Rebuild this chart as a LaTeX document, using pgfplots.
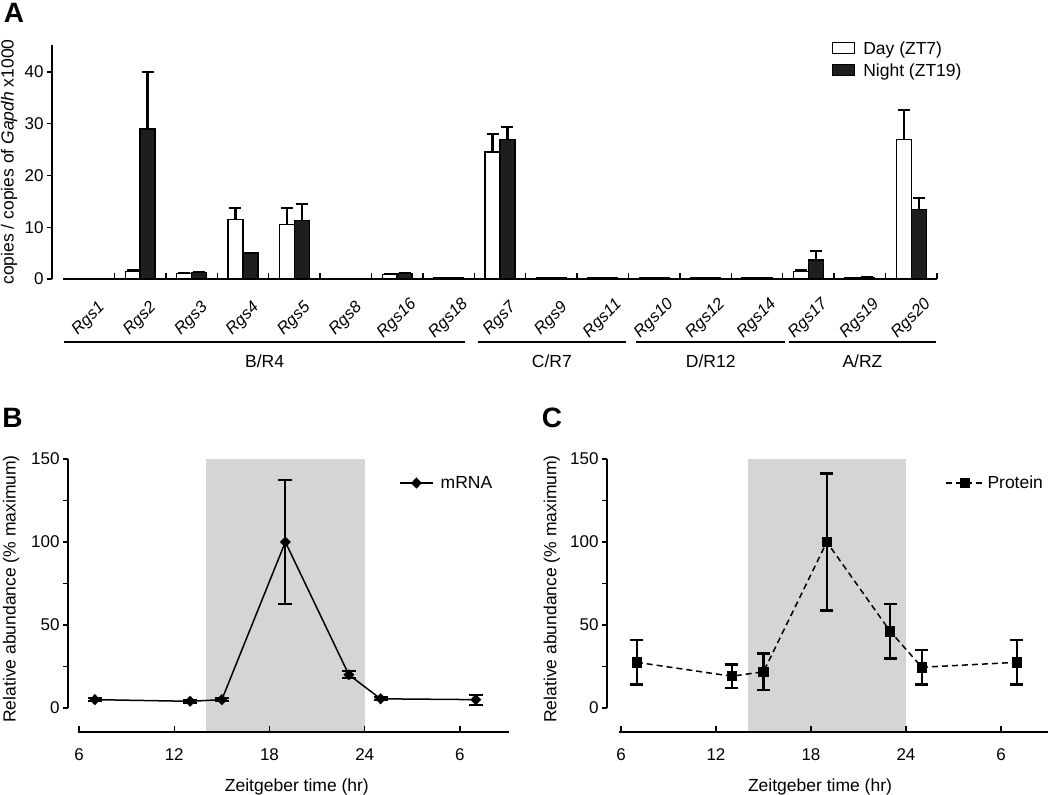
\documentclass[border=0pt]{standalone}
\usepackage{pgfplots}
\usepackage{pgfplotstable}
\pgfplotsset{compat=1.18}
\usepackage{fontspec}
\setmainfont{Liberation Sans}
\definecolor{shade}{RGB}{212,213,215}
\definecolor{barblack}{RGB}{30,30,30}
\newcommand{\fs}[1]{\fontsize{#1}{#1}\selectfont}

\pgfplotstableread{
x day daye night nighte
0  0    0    0    0
1  1.5  0.2  29.0 10.9
2  1.1  0    1.3  0
3  11.5 2.3  5.0  0
4  10.5 3.3  11.3 3.2
5  0    0    0    0
6  0.9  0    1.1  0
7  0.2  0    0.2  0
8  24.5 3.5  27.0 2.4
9  0.2  0    0.2  0
10 0.2  0    0.2  0
11 0.2  0    0.2  0
12 0.2  0    0.2  0
13 0.2  0    0.2  0
14 1.5  0.2  3.7  1.8
15 0.2  0    0.3  0
16 26.9 5.7  13.4 2.3
}\dataA

\pgfplotsset{
  common/.style={
    scale only axis, clip=false,
    axis lines=left, axis line style={draw=none},
    tick align=outside, major tick length=5pt,
    ytick style={line width=1.4pt, black},
    xtick style={draw=none},
    /pgf/number format/assume math mode=true,
    tick label style={font=\fs{17}},
  },
  barlegend/.style={legend image code/.code={\draw[##1] (0pt,-5pt) rectangle (22pt,6pt);}},
  mrnalegend/.style={legend image code/.code={\draw[mark repeat=2, mark phase=2, ##1] plot coordinates {(0pt,0pt) (16.5pt,0pt) (33pt,0pt)};}},
  protlegend/.style={legend image code/.code={\draw[mark repeat=2, mark phase=2, ##1] plot coordinates {(0pt,0pt) (19pt,0pt) (38pt,0pt)};}},
}

\begin{document}
\begin{tikzpicture}
\path[use as bounding box] (0pt,0pt) rectangle (1050pt,-795pt);

% ---------------- Panel A ----------------
\begin{axis}[common,
  at={(52pt,-279pt)}, anchor=south west,
  width=885pt, height=234pt,
  xmin=-0.714, xmax=16.5, ymin=0, ymax=45.2,
  ybar=0pt, bar width=0.29,
  xtick={0,...,16},
  xticklabels={Rgs1,Rgs2,Rgs3,Rgs4,Rgs5,Rgs8,Rgs16,Rgs18,Rgs7,Rgs9,Rgs11,Rgs10,Rgs12,Rgs14,Rgs17,Rgs19,Rgs20},
  xticklabel style={yshift=-35pt, rotate=45, anchor=center, font=\fs{16.5}\itshape},
  ytick={0,10,20,30,40},
  every axis y label/.style={at={(axis description cs:-0.0486,0.5)}, rotate=90, anchor=center, font=\fs{17.5}},
  ylabel={copies / copies of \textit{Gapdh} x1000},
  legend style={at={(axis description cs:0.881,1.025)}, anchor=north west, draw=none, fill=none,
    font=\fs{17.5}, inner sep=0pt, row sep=4pt, column sep=6pt, nodes={inner sep=2pt}},
  legend cell align=left,
]
\addplot[fill=white, draw=black, line width=1.4pt, barlegend,
  error bars/.cd, y dir=plus, y explicit,
  error bar style={line width=2.2pt},
  error mark options={rotate=90, line width=2pt, mark size=6pt}]
  table[x=x, y=day, y error=daye] {\dataA};
\addlegendentry{Day (ZT7)}
\addplot[fill=barblack, draw=black, line width=1.4pt, barlegend,
  error bars/.cd, y dir=plus, y explicit,
  error bar style={line width=2.2pt},
  error mark options={rotate=90, line width=2pt, mark size=6pt}]
  table[x=x, y=night, y error=nighte] {\dataA};
\addlegendentry{Night (ZT19)}
% axis lines and boundary ticks
\draw[line width=1.7pt] (axis cs:-0.714,0) -- (axis cs:-0.714,45.2);
\draw[line width=1.7pt] (axis cs:-0.5,0) -- (axis cs:16.5,0);
\pgfplotsinvokeforeach{0.5,1.5,...,16.5}{\draw[line width=1.4pt] (axis cs:#1,0) -- ++(0pt,6pt);}
% group lines
\draw[line width=2pt] (axis cs:-0.48,-12.17) -- (axis cs:7.32,-12.17);
\draw[line width=2pt] (axis cs:7.57,-12.17) -- (axis cs:10.45,-12.17);
\draw[line width=2pt] (axis cs:10.65,-12.17) -- (axis cs:13.54,-12.17);
\draw[line width=2pt] (axis cs:13.62,-12.17) -- (axis cs:16.48,-12.17);
\node[font=\fs{17.5}] at (axis cs:3.42,-15.8) {B/R4};
\node[font=\fs{17.5}] at (axis cs:9.01,-15.8) {C/R7};
\node[font=\fs{17.5}] at (axis cs:12.10,-15.8) {D/R12};
\node[font=\fs{17.5}] at (axis cs:15.05,-15.8) {A/RZ};
\end{axis}

% ---------------- Panel B ----------------
\begin{axis}[common,
  at={(68pt,-732pt)}, anchor=south west,
  width=441pt, height=273pt,
  xmin=5.307, xmax=33.09, ymin=-14.5, ymax=150,
  xtick={6,12,18,24,30}, xticklabels={6,12,18,24,6},
  xticklabel style={yshift=-18pt, anchor=center},
  ytick={0,25,...,150}, yticklabels={0,,50,,100,,150},
  every axis y label/.style={at={(axis description cs:-0.129,0.524)}, rotate=90, anchor=center, font=\fs{17.5}},
  every axis x label/.style={at={(axis description cs:0.519,-0.2015)}, anchor=center, font=\fs{17.5}},
  xlabel={Zeitgeber time (hr)}, ylabel={Relative abundance (\% maximum)},
  legend style={at={(axis description cs:0.7506,0.912)}, anchor=west, draw=none, fill=none,
    font=\fs{17.5}, inner sep=0pt, column sep=5pt, nodes={inner sep=2pt}},
]
\addplot[fill=shade, draw=none, forget plot] coordinates {(14,-14.5) (14,150) (24,150) (24,-14.5)} -- cycle;
\draw[line width=1.7pt] (axis cs:5.94,-14.5) -- (axis cs:33.09,-14.5);
\draw[line width=1.7pt] (axis cs:5.307,0) -- (axis cs:5.307,150);
\pgfplotsinvokeforeach{6,12,18,24,30}{\draw[line width=1.4pt] (axis cs:#1,-14.5) -- ++(0pt,6pt);}
\addplot[black, line width=1.5pt, mark=diamond*, mark size=4.5pt, mark options={xscale=1.3}, mrnalegend,
  error bars/.cd, y dir=both, y explicit,
  error bar style={line width=2pt},
  error mark options={rotate=90, line width=2pt, mark size=7pt}]
  coordinates {
  (7,5) +- (0,0.8)
  (13,4) +- (0,1)
  (15,5) +- (0,1)
  (19,100) +- (0,37.5)
  (23,20) +- (0,2)
  (25,5.5) +- (0,0.8)
  (31,5) +- (0,3)
  };
\addlegendentry{mRNA}
\end{axis}

% ---------------- Panel C ----------------
\begin{axis}[common,
  at={(607pt,-732pt)}, anchor=south west,
  width=441pt, height=273pt,
  xmin=5.116, xmax=32.97, ymin=-14.5, ymax=150,
  xtick={6,12,18,24,30}, xticklabels={6,12,18,24,6},
  xticklabel style={yshift=-18pt, anchor=center},
  ytick={0,25,...,150}, yticklabels={0,,50,,100,,150},
  every axis y label/.style={at={(axis description cs:-0.125,0.524)}, rotate=90, anchor=center, font=\fs{17.5}},
  every axis x label/.style={at={(axis description cs:0.483,-0.2015)}, anchor=center, font=\fs{17.5}},
  xlabel={Zeitgeber time (hr)}, ylabel={Relative abundance (\% maximum)},
  legend style={at={(axis description cs:0.766,0.912)}, anchor=west, draw=none, fill=none,
    font=\fs{17.5}, inner sep=0pt, column sep=1pt, nodes={inner sep=2pt}},
]
\addplot[fill=shade, draw=none, forget plot] coordinates {(14,-14.5) (14,150) (24,150) (24,-14.5)} -- cycle;
\draw[line width=1.7pt] (axis cs:5.9,-14.5) -- (axis cs:32.97,-14.5);
\draw[line width=1.7pt] (axis cs:5.116,0) -- (axis cs:5.116,150);
\pgfplotsinvokeforeach{6,12,18,24,30}{\draw[line width=1.4pt] (axis cs:#1,-14.5) -- ++(0pt,6pt);}
\addplot[black, line width=1.5pt, dash pattern=on 6pt off 4pt,
  mark=square*, mark size=4.5pt, mark options={solid}, protlegend,
  error bars/.cd, y dir=both, y explicit,
  error bar style={line width=2.5pt, solid},
  error mark options={rotate=90, line width=2.5pt, mark size=6.5pt, solid}]
  coordinates {
  (7,27.5) +- (0,13.3)
  (13,19.1) +- (0,7)
  (15,21.8) +- (0,11)
  (19,100) +- (0,41.3)
  (23,46.2) +- (0,16.3)
  (25,24.5) +- (0,10.3)
  (31,27.5) +- (0,13.3)
  };
\addlegendentry{Protein}
\end{axis}

\node[font=\fs{28}\bfseries] at (14pt,-12.5pt) {A};
\node[font=\fs{28}\bfseries] at (12.5pt,-417.5pt) {B};
\node[font=\fs{28}\bfseries] at (552pt,-418pt) {C};
\end{tikzpicture}
\end{document}
